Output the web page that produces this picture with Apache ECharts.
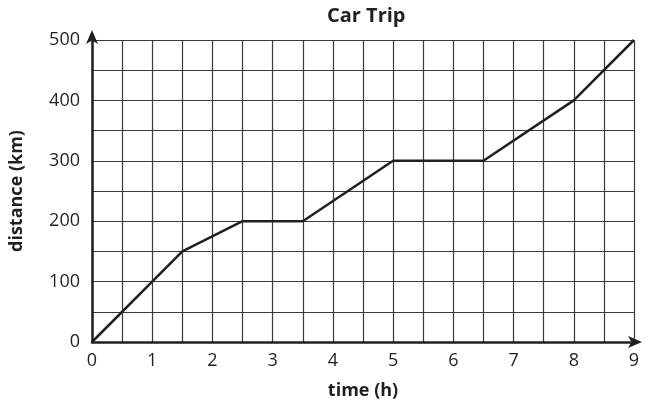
<!DOCTYPE html>
<html>
<head>
<meta charset="utf-8">
<script src="https://cdn.jsdelivr.net/npm/echarts@6/dist/echarts.min.js"></script>
<style>
  html, body { margin: 0; padding: 0; background: #fff; }
  #chart { width: 646px; height: 405px; }
</style>
</head>
<body>
<div id="chart"></div>
<script>
// trip data: time in hours, distance in km
const timeH = [0, 1.5, 2.5, 3.5, 5, 6.5, 8, 9]
const distanceKm = [0, 150, 200, 200, 300, 300, 400, 500]
const xTicks = [0, 1, 2, 3, 4, 5, 6, 7, 8, 9]
const yTicks = [0, 100, 200, 300, 400, 500]

const font = '"Open Sans", "Noto Sans", sans-serif'
const chart = echarts.init(document.getElementById('chart'))

chart.setOption({
  animation: false,
  title: {
    text: 'Car Trip',
    left: 322,
    top: 1,
    textStyle: { fontFamily: font, fontWeight: 'bold', fontSize: 20, color: '#231f20' }
  },
  grid: { left: 91, right: 12, top: 40, bottom: 63, containLabel: false },
  xAxis: {
    type: 'value',
    min: 0,
    max: 9,
    interval: 0.5,
    name: 'time (h)',
    nameLocation: 'middle',
    nameGap: 40,
    nameTextStyle: { fontFamily: font, fontWeight: 'bold', fontSize: 18, color: '#231f20' },
    axisLine: {
      show: true,
      symbol: ['none', 'arrow'],
      symbolSize: [9, 14],
      symbolOffset: [0, 8],
      lineStyle: { color: '#231f20', width: 2.5 }
    },
    axisTick: { show: false },
    axisLabel: {
      fontFamily: font, fontSize: 18, color: '#231f20', margin: 10,
      formatter: v => xTicks.includes(v) ? String(v) : ''
    },
    splitLine: { show: true, lineStyle: { color: '#3a3a3a', width: 1.2 } }
  },
  yAxis: {
    type: 'value',
    min: 0,
    max: 500,
    interval: 50,
    name: 'distance (km)',
    nameLocation: 'middle',
    nameGap: 66,
    nameRotate: 90,
    nameTextStyle: { fontFamily: font, fontWeight: 'bold', fontSize: 18, color: '#231f20' },
    axisLine: {
      show: true,
      symbol: ['none', 'arrow'],
      symbolSize: [9, 14],
      symbolOffset: [0, 10],
      lineStyle: { color: '#231f20', width: 2.5 }
    },
    axisTick: { show: false },
    axisLabel: {
      fontFamily: font, fontSize: 18, color: '#231f20', margin: 12,
      formatter: v => yTicks.includes(v) ? String(v) : ''
    },
    splitLine: { show: true, lineStyle: { color: '#3a3a3a', width: 1.2 } }
  },
  series: [{
    type: 'line',
    data: timeH.map((t, i) => [t, distanceKm[i]]),
    symbol: 'none',
    lineStyle: { color: '#231f20', width: 2.5 },
    z: 5
  }]
})
</script>
</body>
</html>
